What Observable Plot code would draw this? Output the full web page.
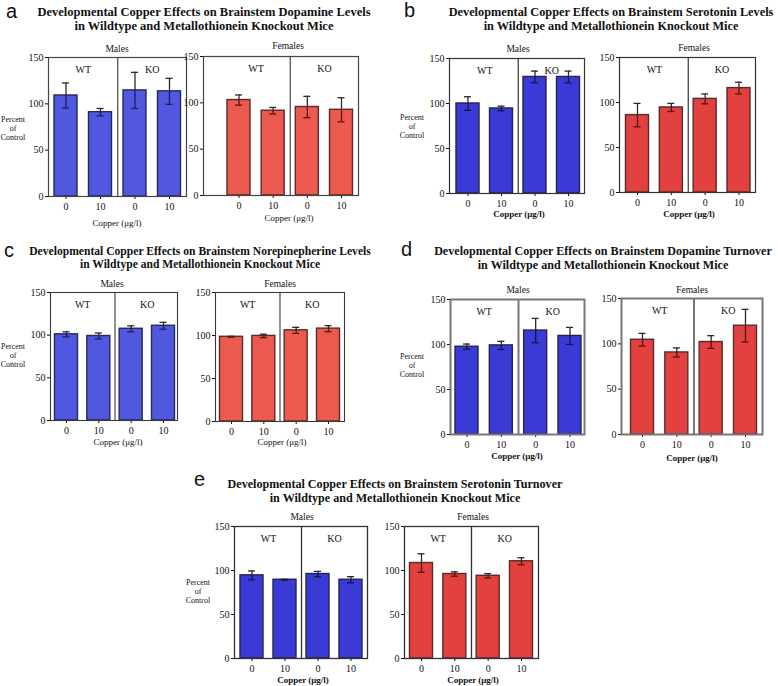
<!DOCTYPE html>
<html>
<head>
<meta charset="utf-8">
<script src="https://cdn.jsdelivr.net/npm/d3@7"></script>
<script src="https://cdn.jsdelivr.net/npm/@observablehq/plot@0.6"></script>
<style>
  html, body { margin: 0; padding: 0; background: #fff; }
  #root { position: relative; width: 778px; height: 686px; overflow: hidden; background: #fff; }
  .lbl { position: absolute; white-space: nowrap; color: #111; text-align: center; }
</style>
</head>
<body>
<div id="root"></div>
<script>
// ---------------- DATA ----------------
const genotype = ["WT", "WT", "KO", "KO"];
const copper = ["0", "10", "0", "10"];
const sexes = ["Males", "Females"];
const yTicks = [0, 50, 100, 150];

// (a) Dopamine levels
const aMalesMean = [109, 91, 114.5, 113.5];
const aMalesErr = [13.5, 4, 19.5, 14];
const aFemalesMean = [103, 91.5, 95.5, 92.5];
const aFemalesErr = [5.5, 3.5, 11.5, 13];
// (b) Serotonin levels
const bMalesMean = [100, 94.5, 129.5, 129.5];
const bMalesErr = [7.5, 2.5, 6.5, 6.5];
const bFemalesMean = [86, 94.5, 104, 116];
const bFemalesErr = [13, 4.5, 5.5, 6.5];
// (c) Norepinepherine levels
const cMalesMean = [101, 99, 107.5, 111];
const cMalesErr = [3, 3.5, 3.5, 4];
const cFemalesMean = [98.5, 99.5, 106, 108];
const cFemalesErr = [0.5, 2, 3.5, 3.5];
// (d) Dopamine turnover
const dMalesMean = [97.5, 99, 115.5, 109.5];
const dMalesErr = [3, 4.5, 13.5, 9.5];
const dFemalesMean = [104.5, 90.5, 102, 120];
const dFemalesErr = [7, 5, 7, 18];
// (e) Serotonin turnover
const eMalesMean = [94.5, 89.5, 96, 89.5];
const eMalesErr = [5, 0.5, 3, 3.5];
const eFemalesMean = [108.5, 96, 94, 110.5];
const eFemalesErr = [10.5, 2.5, 2.5, 4];

const titles = {
  a: ["Developmental Copper Effects on Brainstem Dopamine Levels", "in Wildtype and Metallothionein Knockout Mice"],
  b: ["Developmental Copper Effects on Brainstem Serotonin Levels", "in Wildtype and Metallothionein Knockout Mice"],
  c: ["Developmental Copper Effects on Brainstem Norepinepherine Levels", "in Wildtype and Metallothionein Knockout Mice"],
  d: ["Developmental Copper Effects on Brainstem Dopamine Turnover", "in Wildtype and Metallothionein Knockout Mice"],
  e: ["Developmental Copper Effects on Brainstem Serotonin Turnover", "in Wildtype and Metallothionein Knockout Mice"]
};
const yLabelLines = ["Percent", "of", "Control"];
const xLabel = "Copper (\u03bcg/l)";

// ---------------- LAYOUT / STYLE ----------------
const SERIF = "'Liberation Serif', 'Times New Roman', 'DejaVu Serif', serif";
const SANS = "'Liberation Sans', Arial, sans-serif";
const root = document.getElementById("root");

// multi-line label; (x, baseline) = anchor point and baseline of the first line
function label(lines, x, baseline, opt = {}) {
  const size = opt.size || 10;
  const lh = opt.lh || size;
  const isSans = opt.family === SANS;
  const asc = isSans ? 0.905 : 0.891, cont = isSans ? 1.117 : 1.107;
  const d = document.createElement("div");
  d.className = "lbl";
  [].concat(lines).forEach((t, j) => {
    if (j) d.appendChild(document.createElement("br"));
    d.appendChild(document.createTextNode(t));
  });
  d.style.fontFamily = opt.family || SERIF;
  d.style.fontSize = size + "px";
  d.style.lineHeight = lh + "px";
  d.style.fontWeight = opt.weight || "normal";
  d.style.left = x + "px";
  d.style.top = (baseline - ((lh - cont * size) / 2 + asc * size)) + "px";
  const anchor = opt.anchor || "middle";
  if (anchor === "middle") d.style.transform = "translateX(-50%)";
  else d.style.textAlign = "left";
  root.appendChild(d);
}

const BLUE_A = {fill: "#4f58df", stroke: "#27285a", lower: "#1d1d55"};
const BLUE_B = {fill: "#3a3ad6", stroke: "#24244e", lower: "#15154a"};
const RED_A = {fill: "#ec5a4f", stroke: "#5c2a28", lower: "#5a1414"};
const RED_B = {fill: "#e2413f", stroke: "#5a2a2a", lower: "#5a1010"};

const panels = [
  {id: "a", letter: [6, 18], title: [204, 16, 12.5], yl: [13, 122], xlBold: false, frame: "#444", frameW: 1.2,
   charts: [
     {means: aMalesMean, errs: aMalesErr, col: BLUE_A, L: 48, R: 186, T: 57, B: 196, c0: 65.5, c3: 169, head: [117, 53], xl: [117, 227]},
     {means: aFemalesMean, errs: aFemalesErr, col: RED_A, L: 203, R: 358, T: 56, B: 195, c0: 238.5, c3: 341, head: [288, 50], xl: [289, 222]}
   ]},
  {id: "b", letter: [404, 17], title: [611, 16, 12.3], yl: [412, 120], xlBold: true, frame: "#333", frameW: 1.2,
   charts: [
     {means: bMalesMean, errs: bMalesErr, col: BLUE_B, L: 449, R: 584, T: 58, B: 193, c0: 467.5, c3: 568, head: [518, 53], xl: [519, 218]},
     {means: bFemalesMean, errs: bFemalesErr, col: RED_B, L: 619, R: 755, T: 57, B: 192, c0: 637, c3: 738.5, head: [694, 52], xl: [689, 218]}
   ]},
  {id: "c", letter: [4, 257], title: [200, 255.5, 11.6], yl: [13, 349], xlBold: false, frame: "#3a3a3a", frameW: 1.1,
   charts: [
     {means: cMalesMean, errs: cMalesErr, col: BLUE_A, L: 50, R: 177, T: 292, B: 420, c0: 66, c3: 163, head: [112, 288], xl: [118, 446]},
     {means: cFemalesMean, errs: cFemalesErr, col: RED_A, L: 215, R: 344, T: 292, B: 421, c0: 231, c3: 328, head: [280, 288], xl: [282, 446]}
   ]},
  {id: "d", letter: [401, 256], title: [603, 255.5, 12.1], yl: [412, 359], xlBold: true, frame: "#777", frameW: 2,
   charts: [
     {means: dMalesMean, errs: dMalesErr, col: BLUE_B, L: 450, R: 584, T: 299, B: 434, c0: 466.5, c3: 569.5, head: [518, 294], xl: [517, 460]},
     {means: dFemalesMean, errs: dFemalesErr, col: RED_B, L: 621, R: 762, T: 298, B: 434, c0: 642, c3: 745, head: [692, 294], xl: [692, 462]}
   ]},
  {id: "e", letter: [194, 486], title: [395, 488.5, 12.1], yl: [198, 585], xlBold: true, frame: "#333", frameW: 1.3,
   charts: [
     {means: eMalesMean, errs: eMalesErr, col: BLUE_B, L: 234, R: 367, T: 526, B: 658, c0: 251.5, c3: 350.5, head: [302, 521], xl: [303, 684]},
     {means: eFemalesMean, errs: eFemalesErr, col: RED_B, L: 404, R: 538, T: 526, B: 658, c0: 421, c3: 521, head: [473, 521], xl: [473, 684]}
   ]}
];

const BAR_W = 23;
const ML = 30, MR = 3, MT = 3, MB = 22;

function makeChart(ch, panel) {
  const rows = ch.means.map((v, i) => ({i, g: genotype[i], c: copper[i], v, e: ch.errs[i]}));
  const k = (ch.c3 - ch.c0) / 3;
  const lo = 0.5 - (ch.c0 - ch.L) / k;
  const hi = 3.5 + (ch.R - ch.c3) / k;
  const ins = (k - BAR_W) / 2;
  const groups = Array.from(new Set(genotype)).map(g => {
    const idx = genotype.map((d, i) => d === g ? i : -1).filter(i => i >= 0);
    return {g, center: d3.mean(idx) + 0.5, end: d3.max(idx) + 1};
  });
  const boundaries = groups.slice(0, -1).map(d => d.end);
  const mid = d => d.i + 0.5;
  const svg = Plot.plot({
    width: ch.R - ch.L + ML + MR,
    height: ch.B - ch.T + MT + MB,
    marginLeft: ML, marginRight: MR, marginTop: MT, marginBottom: MB,
    style: {fontFamily: SERIF, fontSize: "10px", background: "transparent", color: "#111", overflow: "visible"},
    x: {type: "linear", domain: [lo, hi], ticks: rows.map(mid), tickFormat: t => copper[Math.round(t - 0.5)], tickSize: 3, tickPadding: 3, label: null},
    y: {domain: [0, 150], ticks: yTicks, tickSize: 3, tickPadding: 2, label: null},
    marks: [
      Plot.rect(rows, {x1: "i", x2: d => d.i + 1, y1: 0, y2: "v", insetLeft: ins, insetRight: ins,
        fill: ch.col.fill, stroke: ch.col.stroke, strokeWidth: 1.4}),
      Plot.ruleX(rows, {x: mid, y1: "v", y2: d => d.v + d.e, stroke: "#2a2a2a", strokeWidth: 1.3}),
      Plot.ruleX(rows, {x: mid, y1: d => d.v - d.e, y2: "v", stroke: ch.col.lower, strokeWidth: 1.3}),
      Plot.ruleY(rows, {y: d => d.v + d.e, x1: mid, x2: mid, insetLeft: -3.5, insetRight: -3.5, stroke: "#2a2a2a", strokeWidth: 1.3}),
      Plot.ruleY(rows, {y: d => d.v - d.e, x1: mid, x2: mid, insetLeft: -3.5, insetRight: -3.5, stroke: ch.col.lower, strokeWidth: 1.3}),
      Plot.ruleX(boundaries, {stroke: panel.frame, strokeWidth: panel.frameW}),
      Plot.text(groups, {x: "center", text: "g", frameAnchor: "top", dy: 8, fontSize: 10, fill: "#111"}),
      Plot.frame({stroke: panel.frame, strokeWidth: panel.frameW})
    ]
  });
  svg.style.position = "absolute";
  svg.style.left = (ch.L - ML) + "px";
  svg.style.top = (ch.T - MT) + "px";
  root.appendChild(svg);
}

for (const p of panels) {
  label(p.id, p.letter[0], p.letter[1], {size: 20, family: SANS, anchor: "start"});
  const ts = p.title[2];
  label(titles[p.id], p.title[0], p.title[1], {size: ts, lh: Math.ceil(ts * 1.11), weight: "bold"});
  label(yLabelLines, p.yl[0], p.yl[1], {size: 8, lh: 9});
  p.charts.forEach((ch, j) => {
    makeChart(ch, p);
    label(sexes[j], ch.head[0], ch.head[1], {size: 9.5});
    label(xLabel, ch.xl[0], ch.xl[1], {size: 9, weight: p.xlBold ? "bold" : "normal"});
  });
}
</script>
</body>
</html>
